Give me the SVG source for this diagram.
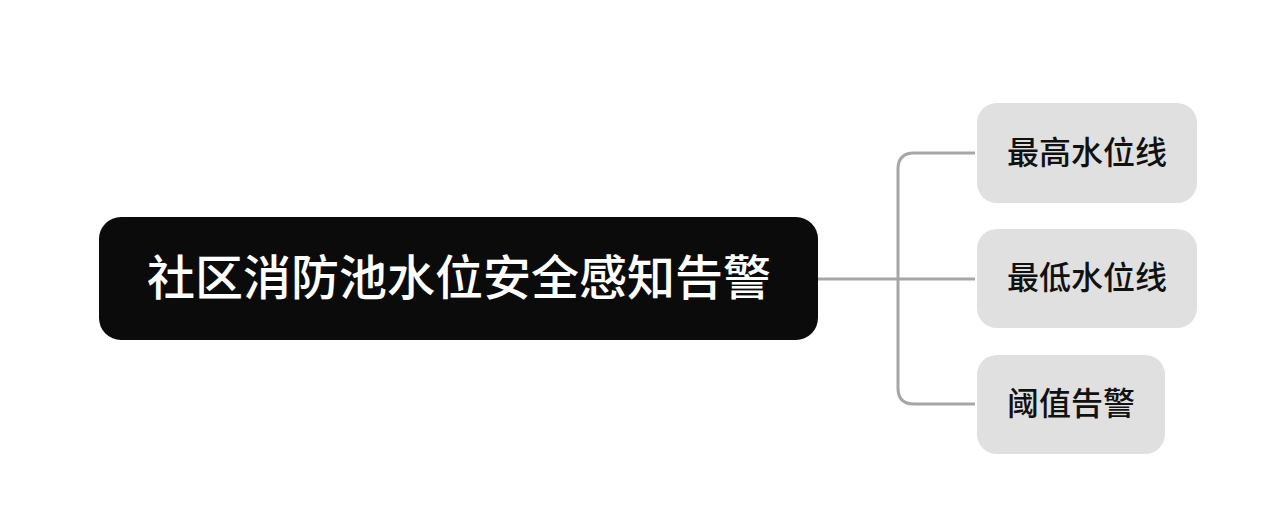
<svg xmlns="http://www.w3.org/2000/svg" width="1286" height="512" viewBox="0 0 1286 512">
<style>
.root{fill:#0b0b0b}
.child{fill:#e0e0e0}
.rt{font-family:"Noto Sans CJK SC","Noto Sans",sans-serif;font-size:48px;font-weight:500;fill:#ffffff;text-anchor:middle;dominant-baseline:central}
.ct{font-family:"Noto Sans CJK SC","Noto Sans",sans-serif;font-size:32px;font-weight:500;fill:#111111;text-anchor:middle;dominant-baseline:central}
.conn{fill:none;stroke:#a6a6a6;stroke-width:3}
</style>
<rect width="1286" height="512" fill="#ffffff"/>
<g id="connectors">
<path class="conn" d="M818 279 H975"/>
<path class="conn" d="M975 153 H914 Q898 153 898 169 V388 Q898 404 914 404 H975"/>
</g>
<g id="root">
<rect class="root" x="99" y="217" width="719" height="123" rx="22"/>
<text class="rt" x="459" y="274">社区消防池水位安全感知告警</text>
</g>
<g id="n1">
<rect class="child" x="977" y="103" width="220" height="100" rx="20"/>
<text class="ct" x="1087" y="150">最高水位线</text>
</g>
<g id="n2">
<rect class="child" x="977" y="229" width="220" height="99" rx="20"/>
<text class="ct" x="1087" y="275">最低水位线</text>
</g>
<g id="n3">
<rect class="child" x="977" y="355" width="188" height="99" rx="20"/>
<text class="ct" x="1071" y="401">阈值告警</text>
</g>
</svg>
